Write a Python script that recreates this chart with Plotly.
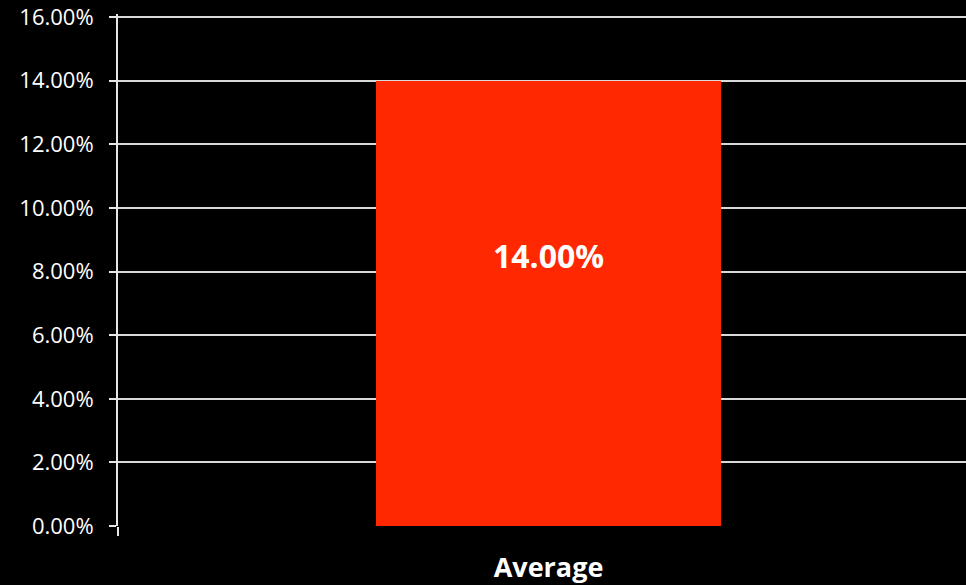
import plotly.graph_objects as go

categories = ["Average"]
values = [14.0]
label_texts = ["14.00%"]
tick_vals = [0, 2, 4, 6, 8, 10, 12, 14, 16]
tick_text = ["0.00%", "2.00%", "4.00%", "6.00%", "8.00%", "10.00%", "12.00%", "14.00%", "16.00%"]

fig = go.Figure()
fig.add_trace(go.Bar(
    x=categories, y=values, width=0.4,
    marker=dict(color="#FF2800", line=dict(width=0)),
    hoverinfo="skip",
))
fig.add_annotation(
    x=categories[0], y=8.5, text="<b>" + label_texts[0] + "</b>", showarrow=False,
    font=dict(family="Open Sans", size=32, color="white"),
)

fig.update_layout(
    width=966, height=585,
    paper_bgcolor="black", plot_bgcolor="black",
    margin=dict(l=118, r=0, t=14, b=59),
    showlegend=False,
    bargap=0,
)
fig.update_yaxes(
    range=[0, 16.1], tickvals=tick_vals, ticktext=tick_text,
    showgrid=True, gridcolor="#d9d9d9", gridwidth=2,
    showline=True, linecolor="#e6e6e6", linewidth=2,
    ticks="outside", ticklen=7, tickwidth=2, tickcolor="#e6e6e6",
    tickfont=dict(family="Open Sans", size=22, color="white"),
    ticklabelstandoff=11,
    zeroline=False, automargin=False,
)
fig.update_xaxes(
    type="category", range=[-0.5, 0.4849],
    tickson="boundaries", ticks="outside", ticklen=9, tickwidth=2, tickcolor="#e6e6e6",
    showline=False, showgrid=False, zeroline=False,
    tickfont=dict(family="Open Sans", size=27, color="white", weight="bold"),
    ticklabelstandoff=23, automargin=False,
)

fig.write_html("out.html")
